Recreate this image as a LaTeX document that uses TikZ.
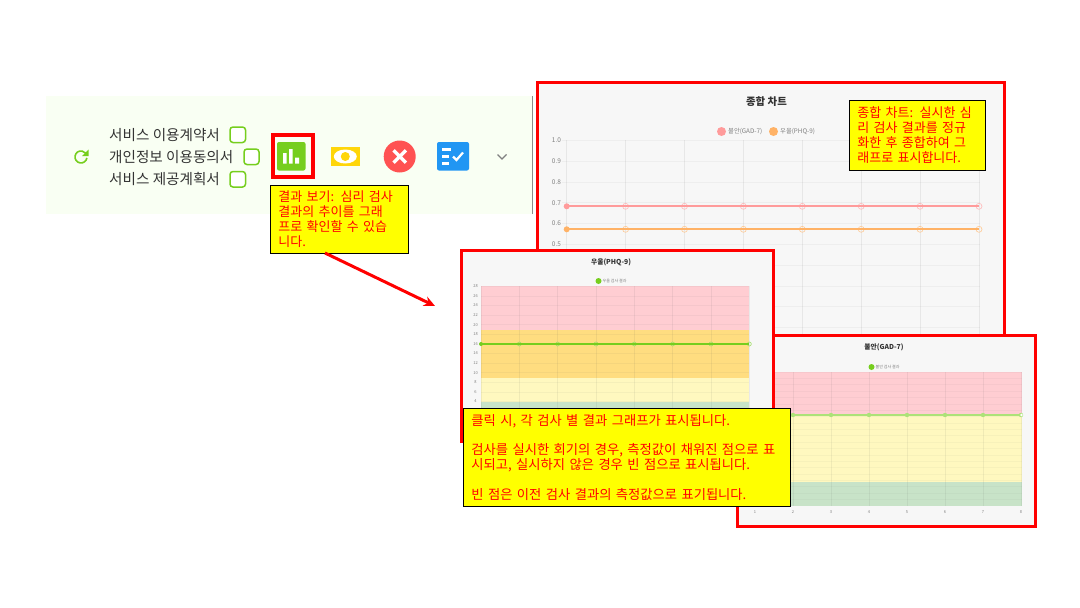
\documentclass[tikz,border=0pt]{standalone}
\usepackage{fontspec}
\setmainfont{Noto Sans CJK KR}
\usetikzlibrary{arrows.meta}
\definecolor{panelbg}{HTML}{F9FFF3}
\definecolor{chartbg}{HTML}{F7F7F7}
\definecolor{okgreen}{HTML}{76CE1E}
\definecolor{bandred}{HTML}{FFCDD2}
\definecolor{bandorange}{HTML}{FFDD80}
\definecolor{bandyellow}{HTML}{FFF8BF}
\definecolor{bandgreen}{HTML}{C8E3C8}
\definecolor{gadpink}{HTML}{FF9B9B}
\definecolor{phqorange}{HTML}{FFB266}
\definecolor{notefill}{HTML}{FFFF00}
\definecolor{notered}{HTML}{FF0000}
\definecolor{coinyellow}{HTML}{FFD60A}
\definecolor{closered}{HTML}{FF5252}
\definecolor{listblue}{HTML}{2196F3}
\tikzset{
  redframe/.style={draw=notered,line width=3pt,fill=chartbg},
  notebox/.style={draw=black,line width=.8pt,fill=notefill,text=notered,anchor=north west,align=left,
    inner xsep=8pt,inner ysep=0pt,font=\fontsize{13}{15}\selectfont},
  rowlabel/.style={anchor=west,inner sep=0pt,text=black!80,font=\fontsize{14.6}{16}\selectfont},
  checkbox/.style={draw=okgreen,line width=1.5pt,rounded corners=3pt,fill=white},
  charttitle/.style={inner sep=0pt,font=\fontsize{6.8}{8}\selectfont\bfseries,text=black!80},
  ticklabel/.style={inner sep=0pt,text=black!50,font=\fontsize{4}{5}\selectfont},
  gridline/.style={draw=black!70,opacity=.05,line width=.7pt},
  hollowdot/.style={draw=#1,fill=none,line width=.6pt}
}
\begin{document}
\begin{tikzpicture}[x=1pt,y=-1pt]
\useasboundingbox[fill=white] (0,0) rectangle (1080,608);
\fill[panelbg] (46,96) rectangle (532,214);
\draw[black!45,line width=.8pt] (532,96) -- (532,214);
\draw[okgreen,line width=1.6pt] (86.9,158) arc (10:320:6);
\fill[okgreen] (88.5,149.5) -- (88.5,156) -- (82,156) -- cycle;
\node (contractlabel) [rowlabel] at (109,135) {서비스 이용계약서};
\node (consentlabel) [rowlabel] at (109,157) {개인정보 이용동의서};
\node (planlabel) [rowlabel] at (109,179) {서비스 제공계획서};
\draw[checkbox] (230,127) rectangle (245.5,142.5);
\draw[checkbox] (244,149) rectangle (259,164.5);
\draw[checkbox] (230,171.5) rectangle (245.5,187);
\fill[okgreen,rounded corners=2pt] (277,142) rectangle (305.5,170.5);
\fill[white] (283,153) rectangle (286.5,163.5) (289,149) rectangle (292.5,163.5) (295,157.5) rectangle (299,163.5);
\draw[notered,line width=4pt] (273,135) rectangle (313,176.5);
\fill[coinyellow] (331,147) rectangle (359.5,166);
\fill[white] (345.3,156.5) ellipse (11.5 and 7);
\fill[coinyellow] (345.3,156.5) circle (4.5);
\fill[closered] (399.7,156.5) circle (16);
\draw[white,line width=3.4pt] (393.5,150.3) -- (405.9,162.7) (405.9,150.3) -- (393.5,162.7);
\fill[listblue,rounded corners=2pt] (437,142) rectangle (469,170.5);
\draw[white,line width=2.2pt] (442,149.5) -- (451,149.5) (442,156.5) -- (448.5,156.5) (442,163.5) -- (448.5,163.5);
\draw[white,line width=2.2pt] (453,156.5) -- (456.5,160) -- (463,152.5);
\draw[black!50,line width=1.2pt] (497.5,154.5) -- (502,159) -- (506.5,154.5);
\draw[redframe] (537.5,82) rectangle (1004.5,336);
\node (maintitle) [charttitle,font=\fontsize{10.4}{12}\selectfont\bfseries] at (766.5,102) {종합 차트};
\fill[gadpink] (721.5,131.5) circle (4.5);
\node (gadlegend) [ticklabel,anchor=west,font=\fontsize{6.3}{7}\selectfont] at (728,131.5) {불안(GAD-7)};
\fill[phqorange] (773.5,131.5) circle (4.5);
\node (phqlegend) [ticklabel,anchor=west,font=\fontsize{6.3}{7}\selectfont] at (780,131.5) {우울(PHQ-9)};
\foreach \i/\t in {0/1.0,1/0.9,2/0.8,3/0.7,4/0.6,5/0.5,6/,7/,8/,9/} {
  \draw[gridline] (562,140.4+20.8*\i) -- (979.5,140.4+20.8*\i);
  \node (mainy\i) [ticklabel,font=\fontsize{6.5}{8}\selectfont] at (556.5,140.4+20.8*\i) {\t};
}
\foreach \i in {0,...,7} {
  \draw[gridline,opacity=.09] (566.7+58.9*\i,140.4) -- (566.7+58.9*\i,334.5);
  \ifnum\i>0
    \draw[hollowdot=gadpink!70!white] (566.7+58.9*\i,206.3) circle (3);
    \draw[hollowdot=phqorange!70!white] (566.7+58.9*\i,229.3) circle (3);
  \fi
}
\draw[gadpink,line width=2pt] (566.7,206.3) -- (979,206.3);
\draw[phqorange,line width=2pt] (566.7,229.3) -- (979,229.3);
\fill[gadpink] (566.7,206.3) circle (3);
\fill[phqorange] (566.7,229.3) circle (3);
\draw[redframe] (737.5,335) rectangle (1035.5,526.5);
\node (gadtitle) [charttitle] at (884,347.5) {불안(GAD-7)};
\fill[okgreen] (871.5,367) circle (3);
\node (gadkey) [ticklabel,anchor=west] at (875.5,367) {불안 검사 결과};
\fill[bandred] (755,372) rectangle (1021.5,415);
\fill[bandyellow] (755,415) rectangle (1021.5,482);
\fill[bandgreen] (755,482) rectangle (1021.5,506);
\foreach \i in {0,...,20} \draw[gridline,opacity=.04] (755,372+6.38*\i) -- (1021.5,372+6.38*\i);
\foreach \i in {1,...,8} {
  \draw[gridline,opacity=.08] (755+38*\i-38,372) -- (755+38*\i-38,506);
  \node (gadx\i) [ticklabel] at (755+38*\i-38,512.5) {\i};
  \fill[okgreen!60!white] (755+38*\i-38,415) circle (2.2);
}
\draw[okgreen!60!white,line width=2pt] (755,415) -- (1021.5,415);
\fill[white] (1021.5,415) circle (1.4);
\draw[redframe] (461,250) rectangle (773,441);
\node (phqtitle) [charttitle] at (611,262) {우울(PHQ-9)};
\fill[okgreen] (598.5,281) circle (3);
\node (phqkey) [ticklabel,anchor=west] at (602.5,281) {우울 검사 결과};
\fill[bandred] (481,286.3) rectangle (749.3,330);
\fill[bandorange] (481,330) rectangle (749.3,378);
\fill[bandyellow] (481,378) rectangle (749.3,402);
\fill[bandgreen] (481,402) rectangle (749.3,421);
\foreach \i in {0,...,12} {
  \draw[gridline] (481,286.3+9.6*\i) -- (749.3,286.3+9.6*\i);
  \pgfmathtruncatemacro{\val}{28-2*\i}
  \node (phqy\i) [ticklabel] at (475.5,286.3+9.6*\i) {\val};
}
\foreach \i in {0,...,7} {
  \draw[gridline,opacity=.08] (481+38.33*\i,286.3) -- (481+38.33*\i,421);
  \ifnum\i>0 \draw[hollowdot=okgreen!70!white] (481+38.33*\i,344) circle (2); \fi
}
\draw[okgreen,line width=1.2pt] (481,344) -- (749.3,344);
\fill[okgreen] (481,344) circle (2);
\node (resultnote) [notebox,minimum width=138pt,text width=122pt,minimum height=68pt] at (270,185)
  {결과 보기: 심리 검사\\결과의 추이를 그래\\프로 확인할 수 있습\\니다.};
\node (mainnote) [notebox,minimum width=136pt,text width=120pt,minimum height=70pt] at (849,100)
  {종합 차트: 실시한 심\\리 검사 결과를 정규\\화한 후 종합하여 그\\래프로 표시합니다.};
\node (clicknote) [notebox,font=\fontsize{13.3}{14.8}\selectfont,minimum width=327pt,text width=311pt,minimum height=98pt] at (463,408)
  {클릭 시, 각 검사 별 결과 그래프가 표시됩니다.\\~\\검사를 실시한 회기의 경우, 측정값이 채워진 점으로 표\\시되고, 실시하지 않은 경우 빈 점으로 표시됩니다.\\~\\빈 점은 이전 검사 결과의 측정값으로 표기됩니다.};
\coordinate (arrowstart) at (325,253);
\coordinate (arrowend) at (435,306);
\draw[notered,line width=3pt,-{Stealth[length=11pt,width=10pt]}] (arrowstart) -- (arrowend);
\end{tikzpicture}
\end{document}
